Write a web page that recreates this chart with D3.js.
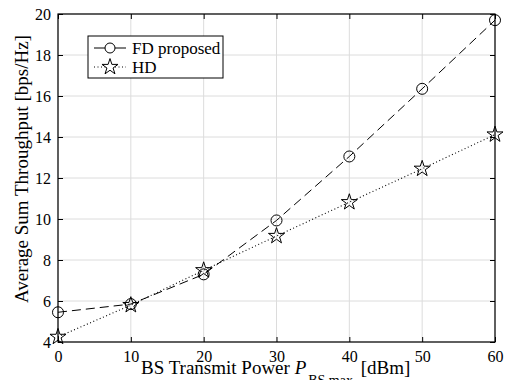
<!DOCTYPE html>
<html>
<head>
<meta charset="utf-8">
<script src="https://cdn.jsdelivr.net/npm/d3@7"></script>
<style>
  body { margin: 0; background: #fff; }
  svg text { font-family: "Liberation Serif", "Times New Roman", serif !important; fill: #000; }
</style>
</head>
<body>
<div id="chart"></div>
<script>
// data
var powers = [0, 10, 20, 30, 40, 50, 60];
var fdProposed = [5.45, 5.85, 7.3, 9.93, 13.05, 16.35, 19.7];
var hdValues = [4.25, 5.8, 7.5, 9.17, 10.82, 12.45, 14.12];
var xTicks = [0, 10, 20, 30, 40, 50, 60];
var yTicks = [4, 6, 8, 10, 12, 14, 16, 18, 20];

var W = 509, H = 380;
var margin = { top: 14, right: 14, bottom: 38, left: 58 };
var width = W - margin.left - margin.right,
    height = H - margin.top - margin.bottom;
var FONT = "Liberation Serif, Times New Roman, serif";

var svg = d3.select("#chart").append("svg")
            .attr("width", W)
            .attr("height", H)
            .attr("font-family", FONT);

var g = svg.append("g")
           .attr("transform", "translate(" + margin.left + "," + margin.top + ")");

// scales
var x = d3.scaleLinear().domain([0, 60]).range([0, width]);
var y = d3.scaleLinear().domain([4, 20]).range([height, 0]);

// grid
g.selectAll(".vgrid").data(xTicks).enter().append("line")
 .attr("x1", d => x(d)).attr("x2", d => x(d))
 .attr("y1", 0).attr("y2", height)
 .attr("stroke", "#dcdcdc").attr("stroke-width", 1);
g.selectAll(".hgrid").data(yTicks).enter().append("line")
 .attr("y1", d => y(d)).attr("y2", d => y(d))
 .attr("x1", 0).attr("x2", width)
 .attr("stroke", "#dcdcdc").attr("stroke-width", 1);

// axes, ticks pointing inside like matlab
function styleAxis(sel) {
  sel.attr("font-family", FONT);
  sel.select(".domain").remove();
  sel.selectAll("line").attr("stroke", "#000");
  sel.selectAll("text").style("font-size", "16px").style("font-family", FONT);
}
g.append("g").attr("transform", "translate(0," + height + ")")
 .call(d3.axisBottom(x).tickValues(xTicks).tickSizeInner(-5).tickSizeOuter(0).tickPadding(9))
 .call(styleAxis);
g.append("g")
 .call(d3.axisTop(x).tickValues(xTicks).tickSizeInner(-5).tickSizeOuter(0).tickFormat(""))
 .call(styleAxis);
g.append("g")
 .call(d3.axisLeft(y).tickValues(yTicks).tickSizeInner(-5).tickSizeOuter(0).tickPadding(7))
 .call(styleAxis);
g.append("g").attr("transform", "translate(" + width + ",0)")
 .call(d3.axisRight(y).tickValues(yTicks).tickSizeInner(-5).tickSizeOuter(0).tickFormat(""))
 .call(styleAxis);

g.append("rect")
 .attr("width", width).attr("height", height)
 .attr("fill", "none").attr("stroke", "#000").attr("stroke-width", 1.2);

// series
var line = d3.line().x(d => x(d[0])).y(d => y(d[1]));
var fdData = powers.map((p, i) => [p, fdProposed[i]]);
var hdData = powers.map((p, i) => [p, hdValues[i]]);

g.append("path").datum(fdData).attr("d", line)
 .attr("fill", "none").attr("stroke", "#000").attr("stroke-width", 1)
 .attr("stroke-dasharray", "9,5");
g.append("path").datum(hdData).attr("d", line)
 .attr("fill", "none").attr("stroke", "#000").attr("stroke-width", 1.1)
 .attr("stroke-dasharray", "1,2.5");

var star = d3.symbol().type(d3.symbolStar).size(80);

g.selectAll(".fd").data(fdData).enter().append("circle")
 .attr("cx", d => x(d[0])).attr("cy", d => y(d[1])).attr("r", 5.5)
 .attr("fill", "none").attr("stroke", "#000").attr("stroke-width", 1);
g.selectAll(".hd").data(hdData).enter().append("path")
 .attr("d", star)
 .attr("transform", d => "translate(" + x(d[0]) + "," + y(d[1]) + ")")
 .attr("fill", "none").attr("stroke", "#000").attr("stroke-width", 1);

// legend
var leg = svg.append("g").attr("transform", "translate(88,36)");
leg.append("rect").attr("width", 135).attr("height", 42)
   .attr("fill", "#fff").attr("stroke", "#000").attr("stroke-width", 1);
leg.append("line").attr("x1", 6).attr("x2", 38).attr("y1", 12).attr("y2", 12)
   .attr("stroke", "#000").attr("stroke-width", 1);
leg.append("circle").attr("cx", 22).attr("cy", 12).attr("r", 5)
   .attr("fill", "#fff").attr("stroke", "#000");
leg.append("line").attr("x1", 6).attr("x2", 38).attr("y1", 31).attr("y2", 31)
   .attr("stroke", "#000").attr("stroke-width", 1).attr("stroke-dasharray", "1,2.5");
leg.append("path").attr("d", star).attr("transform", "translate(22,31)")
   .attr("fill", "#fff").attr("stroke", "#000");
leg.append("text").attr("x", 44).attr("y", 18).style("font-size", "17px").text("FD proposed");
leg.append("text").attr("x", 44).attr("y", 37).style("font-size", "17px").text("HD");

// axis titles
var xl = svg.append("text").attr("x", 141).attr("y", 374).style("font-size", "19px");
xl.append("tspan").text("BS Transmit Power  ");
xl.append("tspan").style("font-style", "italic").text("P");
xl.append("tspan").attr("dy", 11).attr("dx", 2).style("font-size", "14px").text("BS,max");
xl.append("tspan").attr("dy", -11).attr("dx", 3).text(" [dBm]");

svg.append("text")
   .attr("transform", "translate(28,169) rotate(-90)")
   .attr("text-anchor", "middle")
   .style("font-size", "19px")
   .text("Average Sum Throughput [bps/Hz]");
</script>
</body>
</html>
